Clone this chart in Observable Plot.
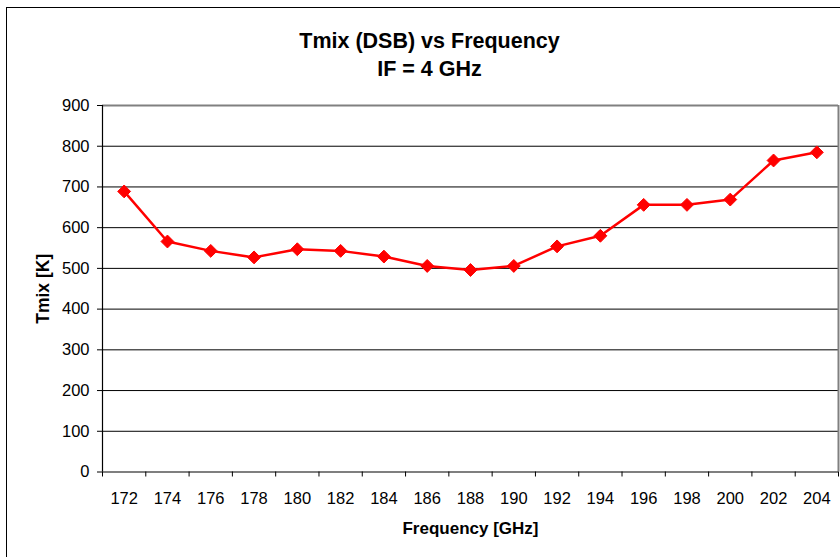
<!DOCTYPE html>
<html>
<head>
<meta charset="utf-8">
<script src="https://cdn.jsdelivr.net/npm/d3@7"></script>
<script src="https://cdn.jsdelivr.net/npm/@observablehq/plot@0.6"></script>
<style>
  html, body { margin: 0; padding: 0; background: #fff; }
  #wrap { position: relative; width: 840px; height: 557px; overflow: hidden; background: #fff; }
  #border { position: absolute; left: 6px; top: 7px; width: 900px; height: 700px; border: 1px solid #000; box-sizing: border-box; }
  #chart { position: absolute; left: 0; top: 0; }
  #chart svg { background: transparent; }
</style>
</head>
<body>
<div id="wrap"><div id="border"></div><div id="chart"></div></div>
<script>
const frequencies = [172, 174, 176, 178, 180, 182, 184, 186, 188, 190, 192, 194, 196, 198, 200, 202, 204];
const tmix = [689, 566, 543, 527, 547, 543, 529, 506, 496, 506, 554, 580, 656, 656, 669, 765, 785];
const yTicks = [0, 100, 200, 300, 400, 500, 600, 700, 800, 900];
const xBoundaries = [171, 173, 175, 177, 179, 181, 183, 185, 187, 189, 191, 193, 195, 197, 199, 201, 203, 205];
const titleLine1 = "Tmix (DSB) vs Frequency";
const titleLine2 = "IF = 4 GHz";
const xTitle = "Frequency [GHz]";
const yTitle = "Tmix [K]";

const data = frequencies.map((f, i) => ({f, t: tmix[i]}));
const font = "'Liberation Sans', Arial, sans-serif";

const plot = Plot.plot({
  width: 840,
  height: 557,
  marginTop: 105,
  marginBottom: 85.5,
  marginLeft: 102,
  marginRight: 2,
  style: {fontFamily: font, fontSize: "16.5px", color: "#000", background: "transparent"},
  x: {domain: [171, 205]},
  y: {domain: [0, 900]},
  marks: [
    Plot.ruleY(yTicks.filter(d => d > 0 && d < 900), {stroke: "#000", strokeWidth: 1}),
    Plot.ruleY([yTicks[yTicks.length - 1]], {stroke: "#808080", strokeWidth: 2}),
    Plot.ruleX([xBoundaries[xBoundaries.length - 1]], {stroke: "#808080", strokeWidth: 2}),
    Plot.axisY({ticks: yTicks, tickSize: 5, tickPadding: 8, label: null, fontSize: 16.5, stroke: "#000"}),
    Plot.axisX({ticks: xBoundaries, tickSize: 5, tickFormat: () => "", label: null, stroke: "#000"}),
    Plot.axisX({ticks: frequencies, tickSize: 0, tickPadding: 20, label: null, fontSize: 16.5, tickFormat: d => String(d)}),
    Plot.ruleX([xBoundaries[0]], {stroke: "#000", strokeWidth: 1.2}),
    Plot.ruleY([0], {stroke: "#000", strokeWidth: 1.2}),
    Plot.line(data, {x: "f", y: "t", stroke: "#ff0000", strokeWidth: 2.5}),
    Plot.dot(data, {x: "f", y: "t", symbol: "diamond2", r: 5.8, fill: "#ff0000", stroke: "#ff0000", strokeWidth: 1}),
    Plot.text([titleLine1], {frameAnchor: "top-left", dx: 327, dy: -57.5, lineAnchor: "bottom", textAnchor: "middle", fontSize: 21.5, fontWeight: "bold", fill: "#000"}),
    Plot.text([titleLine2], {frameAnchor: "top-left", dx: 327, dy: -30, lineAnchor: "bottom", textAnchor: "middle", fontSize: 21.5, fontWeight: "bold", fill: "#000"}),
    Plot.text([xTitle], {frameAnchor: "bottom", dy: 61.5, lineAnchor: "bottom", textAnchor: "middle", fontSize: 17, fontWeight: "bold", fill: "#000"}),
    Plot.text([yTitle], {frameAnchor: "left", dx: -54, rotate: -90, lineAnchor: "bottom", textAnchor: "middle", fontSize: 17.5, fontWeight: "bold", fill: "#000"})
  ]
});
document.getElementById("chart").appendChild(plot);
</script>
</body>
</html>
